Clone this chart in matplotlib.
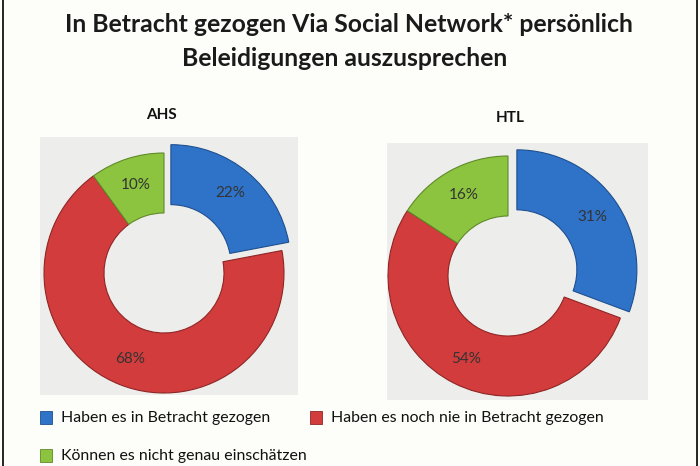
import matplotlib.pyplot as plt
from matplotlib.lines import Line2D

# === Data ===
categories = ["Haben es in Betracht gezogen",
              "Haben es noch nie in Betracht gezogen",
              "Können es nicht genau einschätzen"]
ahs_values = [22, 68, 10]
htl_values = [31, 54, 16]
colors = ["#2f73c8", "#d23c3c", "#8cc43f"]
edges = ["#1f4f8f", "#8f2626", "#5f8a2a"]

plt.rcParams['font.family'] = ['Lato', 'DejaVu Sans']

fig = plt.figure(figsize=(7, 4.66), dpi=100)
fig.patch.set_facecolor("#fdfdf9")

W, H = 700, 466


def donut(box, center, radius, values, title, title_xy):
    x0, y0, x1, y1 = box
    ax = fig.add_axes([x0 / W, 1 - y1 / H, (x1 - x0) / W, (y1 - y0) / H])
    ax.set_facecolor("#ededeb")
    cx, cy = center
    total = sum(values)
    wedges, texts, autotexts = ax.pie(
        values, colors=colors, startangle=90, counterclock=False,
        explode=[0.09, 0, 0], radius=1.0, frame=True,
        autopct=lambda p: f"{p * total / 100:.0f}%", pctdistance=0.77,
        wedgeprops=dict(width=0.5, linewidth=0.8),
        textprops=dict(fontsize=11, color="#333333"))
    for w, e in zip(wedges, edges):
        w.set_edgecolor(e)
    ax.set_xlim(-(cx - x0) / radius, (x1 - cx) / radius)
    ax.set_ylim(-(y1 - cy) / radius, (cy - y0) / radius)
    ax.set_aspect('auto')
    ax.set_xticks([])
    ax.set_yticks([])
    for s in ax.spines.values():
        s.set_visible(False)
    fig.text(title_xy[0] / W, 1 - title_xy[1] / H, title, ha='center',
             va='center', fontsize=11, fontweight='bold', color="#111111")


donut((40, 137, 298, 395), (164, 273), 120, ahs_values, "AHS", (161, 115))
donut((387, 143, 648, 400), (508, 276), 120, htl_values, "HTL", (510, 118))

# === Title ===
fig.text(349 / W, 1 - 25 / H, "In Betracht gezogen Via Social Network* persönlich",
         ha='center', va='center', fontsize=17.8, fontweight='bold', color="#1a1a1a")
fig.text(345 / W, 1 - 58 / H, "Beleidigungen auszusprechen",
         ha='center', va='center', fontsize=17.8, fontweight='bold', color="#1a1a1a")

# === Legend ===
leg_pos = [(40, 418), (310, 418), (40, 456)]
for (lx, ly), c, e, label in zip(leg_pos, colors, edges, categories):
    fig.patches.append(plt.Rectangle(((lx) / W, 1 - (ly + 6) / H), 12 / W, 13 / H,
                                     transform=fig.transFigure, facecolor=c,
                                     edgecolor=e, linewidth=0.6))
    fig.text((lx + 21) / W, 1 - ly / H, label, ha='left', va='center',
             fontsize=11.4, color="#111111")

# === Page frame ===
fig.add_artist(Line2D([2.5 / W, 2.5 / W], [0, 1], color='black', lw=1.2))
fig.add_artist(Line2D([696.5 / W, 696.5 / W], [0, 1], color='black', lw=1.2))

fig.savefig("out.png", dpi=100, facecolor=fig.get_facecolor())
